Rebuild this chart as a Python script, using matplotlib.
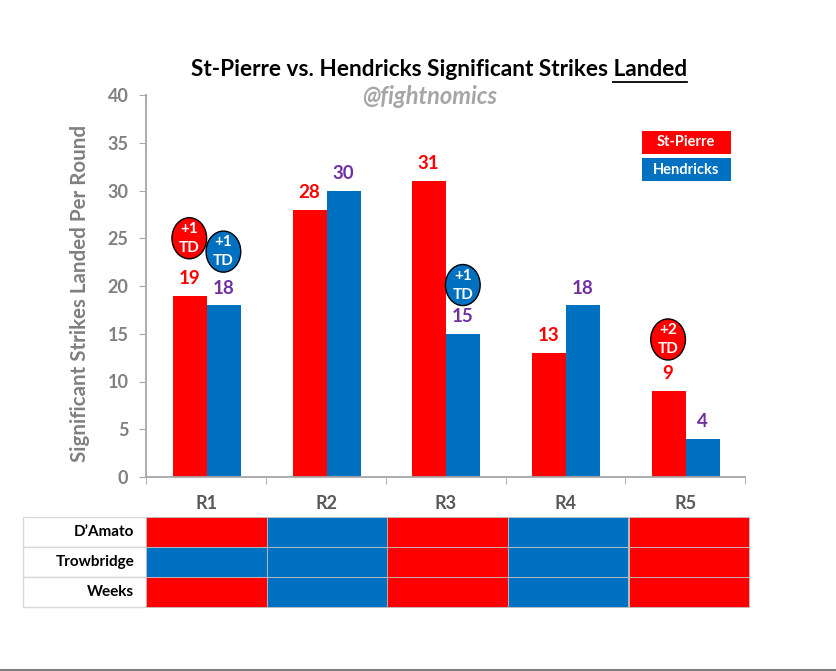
import matplotlib
matplotlib.use("Agg")
import matplotlib.pyplot as plt
from matplotlib.patches import Ellipse, Rectangle
import numpy as np

plt.rcParams['font.family'] = ['Lato', 'DejaVu Sans']

rounds = ["R1", "R2", "R3", "R4", "R5"]
st_pierre = [19, 28, 31, 13, 9]
hendricks = [18, 30, 15, 18, 4]
# takedown annotations: (round index, fighter, label, height above bar)
takedowns = [(0, "St-Pierre", "+1\nTD", 6.0), (0, "Hendricks", "+1\nTD", 5.6),
             (2, "Hendricks", "+1\nTD", 5.1), (4, "St-Pierre", "+2\nTD", 5.4)]
judges = ["D\u2019Amato", "Trowbridge", "Weeks"]
scorecards = [["St-Pierre", "Hendricks", "St-Pierre", "Hendricks", "St-Pierre"],
              ["Hendricks", "Hendricks", "St-Pierre", "Hendricks", "St-Pierre"],
              ["St-Pierre", "Hendricks", "St-Pierre", "Hendricks", "St-Pierre"]]

RED = "#FF0000"
BLUE = "#0070C0"
PURPLE = "#7030A0"
GRAY = "#808080"
colors = {"St-Pierre": RED, "Hendricks": BLUE}

fig = plt.figure(figsize=(8.37, 6.71), dpi=100)
W, H = 837, 671
ax_l, ax_r, ax_t, ax_b = 146.5, 745, 95, 477
ax = fig.add_axes([ax_l / W, 1 - ax_b / H, (ax_r - ax_l) / W, (ax_b - ax_t) / H])

x = np.arange(len(rounds))
bw = 0.285
ax.bar(x - bw / 2 + 0.005, st_pierre, width=bw, color=RED, zorder=2)
ax.bar(x + bw / 2 + 0.005, hendricks, width=bw, color=BLUE, zorder=2)

ax.set_xlim(-0.5, len(rounds) - 0.5)
ax.set_ylim(0, 40)
ax.set_yticks(range(0, 41, 5))
ax.set_xticks(x)
ax.set_xticklabels(rounds)
ax.set_xticks(np.arange(-0.5, len(rounds)), minor=True)
ax.tick_params(axis='x', which='major', length=0, pad=13, labelsize=13, labelcolor="#595959")
ax.tick_params(axis='x', which='minor', length=5, color="#A6A6A6", direction='out')
ax.tick_params(axis='y', length=5, color="#A6A6A6", labelsize=13, labelcolor=GRAY, pad=8)
for lab in ax.get_xticklabels() + ax.get_yticklabels():
    lab.set_fontweight('bold')
for s in ["top", "right"]:
    ax.spines[s].set_visible(False)
for s in ["left", "bottom"]:
    ax.spines[s].set_color("#A6A6A6")
    ax.spines[s].set_linewidth(1.3)

ax.set_ylabel("Significant Strikes Landed Per Round", fontsize=14.8, fontweight='bold',
              color=GRAY, va='center')
ax.yaxis.set_label_coords(-0.111, 0.48)

for i in range(len(rounds)):
    ax.text(x[i] - bw / 2, st_pierre[i] + 0.9, str(st_pierre[i]), ha='center', va='bottom',
            color=RED, fontsize=13.5, fontweight='bold')
    ax.text(x[i] + bw / 2, hendricks[i] + 0.9, str(hendricks[i]), ha='center', va='bottom',
            color=PURPLE, fontsize=13.5, fontweight='bold')

for (ri, who, lab, dy) in takedowns:
    if who == "St-Pierre":
        xc, base = x[ri] - bw / 2, st_pierre[ri]
    else:
        xc, base = x[ri] + bw / 2, hendricks[ri]
    yc = base + dy
    e = Ellipse((xc, yc), width=0.29, height=4.3, facecolor=colors[who],
                edgecolor="black", linewidth=1.0, zorder=4)
    ax.add_patch(e)
    ax.text(xc, yc, lab, ha='center', va='center', color='white', fontsize=11,
            fontweight='bold', linespacing=1.45, zorder=5)

# Title
title_kw = dict(fontsize=16.3, fontweight='bold', color='black')
title = fig.text(439 / W, 1 - 70 / H, "St-Pierre vs. Hendricks Significant Strikes Landed",
                 ha='center', va='center', **title_kw)
fig.canvas.draw()
rend = fig.canvas.get_renderer()
tb = title.get_window_extent(rend)
tmp = fig.text(0, 0, "Landed", **title_kw)
lw_px = tmp.get_window_extent(rend).width
tmp.remove()
uy = tb.y0 - 1
fig.add_artist(plt.Line2D([(tb.x1 - lw_px) / W, tb.x1 / W], [uy / H, uy / H], color='black', lw=1.3))

fig.text(430 / W, 1 - 97 / H, "@fightnomics", ha='center', va='center', fontsize=17,
         fontweight='bold', style='italic', color="#A6A6A6")

# Legend boxes
for j, (name, col) in enumerate([("St-Pierre", RED), ("Hendricks", BLUE)]):
    y0 = 131 + j * 27
    fig.add_artist(Rectangle((642 / W, 1 - (y0 + 23) / H), 89 / W, 23 / H,
                             transform=fig.transFigure, facecolor=col, edgecolor='none'))
    fig.text(686 / W, 1 - (y0 + 11.5) / H, name, ha='center', va='center', color='white',
             fontsize=10.5, fontweight='bold')

# Scorecard table
tab_top, row_h = 517, 30
label_l = 23
for r, judge in enumerate(judges):
    ytop = tab_top + r * row_h
    fig.add_artist(Rectangle((label_l / W, 1 - (ytop + row_h) / H), (ax_l - label_l) / W, row_h / H,
                             transform=fig.transFigure, facecolor='white', edgecolor="#D9D9D9", lw=1))
    fig.text((ax_l - 12) / W, 1 - (ytop + row_h / 2) / H, judge, ha='right', va='center',
             fontsize=11, fontweight='bold', color='black')
    bandw = (ax_r + 4 - ax_l) / len(rounds)
    for c, winner in enumerate(scorecards[r]):
        fig.add_artist(Rectangle(((ax_l + c * bandw) / W, 1 - (ytop + row_h) / H), bandw / W, row_h / H,
                                 transform=fig.transFigure, facecolor=colors[winner],
                                 edgecolor="#BFBFBF", lw=0.6))

# Bottom border line
fig.add_artist(plt.Line2D([0, 1], [1 - 669.5 / H, 1 - 669.5 / H], color="#7F7F7F", lw=1.5))

fig.savefig("out.png", dpi=100, facecolor='white')
